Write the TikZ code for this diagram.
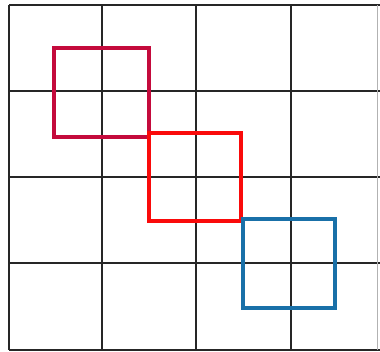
\documentclass[tikz,border=0pt]{standalone}
\definecolor{sqcrimson}{RGB}{196,10,60}
\definecolor{sqred}{RGB}{250,10,10}
\definecolor{sqblue}{RGB}{25,112,168}
\tikzset{
  gridline/.style={draw=black!85, line width=1.1pt},
  sq/.style={line width=3.6pt, line join=miter},
}
\begin{document}
\begin{tikzpicture}[x=1pt,y=-1pt]
\useasboundingbox (0,0) rectangle (380,352);
\fill[white] (0,0) rectangle (380,352);
% grid
\foreach \x in {9,102,196,291} \draw[gridline] (\x,5) -- (\x,350);
\foreach \y in {5,91,177,263,350} \draw[gridline] (9,\y) -- (380,\y);
\draw[draw=black!30, line width=1pt] (377,5) -- (377,350);
% squares
\draw[sq, draw=sqcrimson] (54,48) rectangle (149,137);
\draw[sq, draw=sqred] (149,133) rectangle (241,221);
\draw[sq, draw=sqblue] (243,219) rectangle (335,308);
\end{tikzpicture}
\end{document}
